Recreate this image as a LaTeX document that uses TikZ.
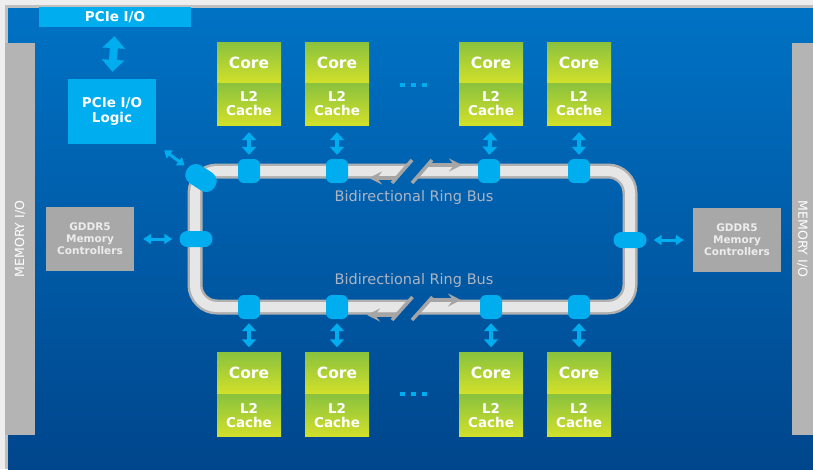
\documentclass[tikz,border=0pt]{standalone}
\usepackage{fontspec}
\setmainfont{DejaVu Sans}
\usetikzlibrary{arrows.meta}
\definecolor{bgframe}{RGB}{238,238,238}
\definecolor{bgedge}{RGB}{192,192,192}
\definecolor{bgtop}{RGB}{0,114,196}
\definecolor{bgbot}{RGB}{0,70,140}
\definecolor{cyanb}{RGB}{0,174,239}
\definecolor{cgreen}{RGB}{138,194,62}
\definecolor{cyellow}{RGB}{210,224,42}
\definecolor{memgray}{RGB}{168,168,168}
\definecolor{bargray}{RGB}{180,180,180}
\definecolor{tubeedge}{RGB}{176,176,176}
\definecolor{tubefill}{RGB}{230,230,230}
\definecolor{ringarrow}{RGB}{165,165,165}
\definecolor{labelgray}{RGB}{172,180,194}
\definecolor{memtext}{RGB}{236,236,236}
\begin{document}
\begin{tikzpicture}[x=1pt,y=-1pt,
  corebox/.style={minimum width=64pt,minimum height=41pt,inner sep=0pt,
    top color=cgreen,bottom color=cyellow,text=white,
    font=\bfseries\fontsize{15.5}{15}\selectfont},
  cachebox/.style={corebox,minimum height=42pt,align=center,
    font=\bfseries\fontsize{13.5}{14}\selectfont},
  stopv/.style={fill=cyanb,rounded corners=6pt,minimum width=22pt,
    minimum height=24pt,inner sep=0pt},
  stoph/.style={fill=cyanb,rounded corners=8pt,minimum width=33pt,
    minimum height=16pt,inner sep=0pt},
  dblv/.style={cyanb,line width=4pt,
    {Triangle[width=14pt,length=8pt]}-{Triangle[width=14pt,length=8pt]}},
  dblh/.style={cyanb,line width=3pt,
    {Triangle[width=10pt,length=8pt]}-{Triangle[width=10pt,length=8pt]}},
  dblbig/.style={cyanb,line width=8pt,
    {Triangle[width=22pt,length=12pt]}-{Triangle[width=22pt,length=12pt]}},
  membar/.style={fill=bargray,inner sep=0pt,minimum height=30pt,
    text=white,font=\fontsize{12.5}{13}\selectfont},
  memctl/.style={fill=memgray,minimum width=88pt,minimum height=64pt,
    inner sep=0pt,align=center,text=memtext,
    font=\bfseries\fontsize{10.5}{12}\selectfont},
  pciebox/.style={fill=cyanb,inner sep=0pt,text=white,align=center,
    font=\bfseries\fontsize{13.5}{14.5}\selectfont},
  dotsq/.style={fill=cyanb,minimum width=5pt,minimum height=4pt,inner sep=0pt},
  ringlabel/.style={text=labelgray,font=\fontsize{14.5}{15}\selectfont},
  tubeout/.style={tubeedge,line width=15pt},
  tubein/.style={tubefill,line width=10pt},
  ringarr/.style={ringarrow,line width=3.5pt,-{Stealth[width=13pt,length=13pt,inset=5pt]}},
  slash/.style={ringarrow,line width=3.5pt}
]
\useasboundingbox (0,0) rectangle (813,469);
% frame and background
\fill[bgframe] (0,0) rectangle (813,469);
\fill[bgedge] (5,5) rectangle (813,469);
\shade[top color=bgtop,bottom color=bgbot] (8,8) rectangle (813,469);

% memory I/O bars
\node[membar,rotate=90,minimum width=392pt] (ml) at (20,239) {MEMORY I/O};
\node[membar,rotate=-90,minimum width=392pt,minimum height=21pt] (mr) at (802.5,239) {MEMORY I/O};

% PCIe
\node[pciebox,minimum width=152pt,minimum height=20pt] (pcie) at (115,17) {PCIe I/O};
\node[pciebox,minimum width=88pt,minimum height=65pt] (logic) at (112,111.5) {PCIe I/O\\Logic};
\draw[dblbig,shorten <=9pt,shorten >=7pt] (pcie.south) -- (logic.north);

% memory controllers
\node[memctl] (mcl) at (90,239) {GDDR5\\Memory\\Controllers};
\node[memctl] (mcr) at (737,240) {GDDR5\\Memory\\Controllers};

% ring tube (with breaks)
\begin{scope}
  \clip (0,0) -- (420.1,0) -- (420.1,150) -- (381.5,195) -- (421.9,285)
        -- (383.3,330) -- (383.3,469) -- (0,469) -- cycle;
  \draw[tubeout,rounded corners=22pt] (195,171) rectangle (630,307);
  \draw[tubein,rounded corners=22pt] (195,171) rectangle (630,307);
\end{scope}
\begin{scope}
  \clip (813,0) -- (440.1,0) -- (440.1,150) -- (401.5,195) -- (441.9,285)
        -- (403.3,330) -- (403.3,469) -- (813,469) -- cycle;
  \draw[tubeout,rounded corners=22pt] (195,171) rectangle (630,307);
  \draw[tubein,rounded corners=22pt] (195,171) rectangle (630,307);
\end{scope}

% break marks and direction arrows (top)
\coordinate (ts1a) at (392,183); \coordinate (ts1b) at (412,160);
\coordinate (ts2a) at (412,183); \coordinate (ts2b) at (432,160);
\draw[slash] (ts1a) -- (ts1b);
\draw[slash] (ts2a) -- (ts2b);
\coordinate (tla) at (397,178); \coordinate (tlb) at (369,178);
\coordinate (tra) at (427,165); \coordinate (trb) at (462,165);
\draw[ringarr] (tla) -- (tlb);
\draw[ringarr] (tra) -- (trb);
% break marks and direction arrows (bottom)
\coordinate (bs1a) at (392,320); \coordinate (bs1b) at (412.5,297);
\coordinate (bs2a) at (412,320); \coordinate (bs2b) at (432.5,297);
\draw[slash] (bs1a) -- (bs1b);
\draw[slash] (bs2a) -- (bs2b);
\coordinate (bla) at (396,315); \coordinate (blb) at (367,315);
\coordinate (bra) at (429,300); \coordinate (brb) at (461,300);
\draw[ringarr] (bla) -- (blb);
\draw[ringarr] (bra) -- (brb);

% ring labels
\node[ringlabel] (rbt) at (414,197) {Bidirectional Ring Bus};
\node[ringlabel] (rbb) at (414,280) {Bidirectional Ring Bus};

% stops
\node[stopv] (st1) at (249,171) {};
\node[stopv] (st2) at (337,171) {};
\node[stopv] (st3) at (489,171) {};
\node[stopv] (st4) at (579,171) {};
\node[stopv] (sb1) at (249,307) {};
\node[stopv] (sb2) at (337,307) {};
\node[stopv] (sb3) at (491,307) {};
\node[stopv] (sb4) at (579,307) {};
\node[stoph] (sl) at (196,239) {};
\node[stoph] (sr) at (630,240) {};
\node[fill=cyanb,rounded corners=10pt,minimum width=33pt,minimum height=21pt,
      inner sep=0pt,rotate=-33] (sc) at (201,178) {};

% cores
\foreach \i/\x in {1/249,2/337,3/491,4/579}{
  \node[corebox] (ct\i) at (\x,62.5) {Core};
  \node[cachebox] (lt\i) at (\x,104) {L2\\Cache};
  \node[corebox] (cb\i) at (\x,373) {Core};
  \node[cachebox] (lb\i) at (\x,415.5) {L2\\Cache};
}
% core-stop arrows
\foreach \i in {1,2,3,4}{
  \draw[dblv,shorten <=4pt,shorten >=7pt] (st\i.north) -- (lt\i.south);
  \draw[dblv,shorten <=4pt,shorten >=5pt] (sb\i.south) -- (cb\i.north);
}
% dots
\node[dotsq] (dt1) at (402,85) {};
\node[dotsq] (dt2) at (413,85) {};
\node[dotsq] (dt3) at (424,85) {};
\node[dotsq] (db1) at (402,394) {};
\node[dotsq] (db2) at (413,394) {};
\node[dotsq] (db3) at (424,394) {};

% memory arrows
\draw[dblh,shorten <=9pt,shorten >=7pt] (mcl.east) -- (sl.west);
\draw[dblh,shorten <=7pt,shorten >=9pt] (sr.east) -- (mcr.west);
% PCIe logic to ring
\draw[cyanb,line width=3pt,
  {Triangle[width=10pt,length=7pt]}-{Triangle[width=10pt,length=7pt]},
  shorten <=10pt,shorten >=4pt] (logic.south east) -- (sc);
\end{tikzpicture}
\end{document}
